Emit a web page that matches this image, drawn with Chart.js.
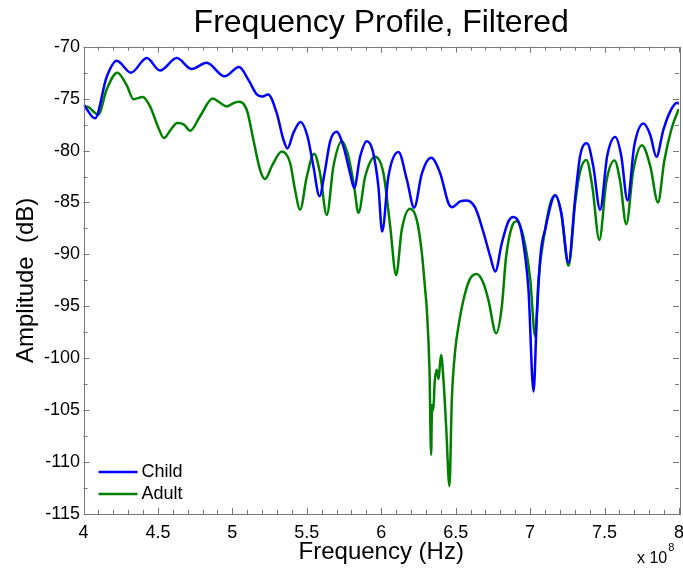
<!DOCTYPE html>
<html>
<head>
<meta charset="utf-8">
<script src="https://cdn.jsdelivr.net/npm/chart.js@4.4.1/dist/chart.umd.min.js"></script>
<style>
  html, body { margin: 0; padding: 0; background: #fff; }
  #c { display: block; }
</style>
</head>
<body>
<canvas id="c" width="683" height="568"></canvas>
<script>
// ---- Data (frequency in units of 1e8 Hz, amplitude in dB) ----
const childFreq = [4.003,4.077,4.156,4.223,4.319,4.425,4.514,4.626,4.727,4.827,4.948,5.045,5.108,5.164,5.198,5.240,5.298,5.343,5.370,5.410,5.458,5.504,5.544,5.585,5.623,5.657,5.700,5.746,5.791,5.818,5.858,5.903,5.944,5.981,6.006,6.048,6.116,6.172,6.221,6.273,6.335,6.396,6.452,6.476,6.530,6.575,6.631,6.687,6.732,6.766,6.810,6.855,6.888,6.933,6.967,6.989,7.023,7.045,7.070,7.101,7.169,7.209,7.258,7.303,7.336,7.382,7.424,7.470,7.518,7.572,7.612,7.654,7.700,7.762,7.807,7.848,7.895,7.942,7.987,8.0];
const childAmp = [-75.6,-76.9,-72.9,-71.35,-72.5,-71.1,-72.3,-71.1,-72.15,-71.55,-72.85,-71.95,-73.2,-74.6,-74.8,-74.6,-76.4,-78.96,-79.8,-78.3,-77.25,-78.6,-81.5,-84.4,-81.85,-79.1,-78.2,-79.6,-82.2,-83.6,-80.6,-79.1,-80.1,-83.5,-87.8,-82.5,-80.15,-82.8,-85.5,-82.2,-80.7,-82.2,-85.1,-85.45,-84.9,-84.8,-85.5,-87.9,-90.2,-91.65,-88.9,-86.8,-86.4,-87.3,-90.2,-93.4,-103.2,-96,-90,-87.6,-84.3,-86,-90.8,-84.5,-80.5,-79.3,-81.5,-85.7,-80.5,-78.7,-80.5,-84.8,-79.5,-77.4,-78.5,-80.6,-78,-76.2,-75.4,-75.5];

const adultFreq = [4.003,4.03,4.099,4.156,4.227,4.290,4.335,4.398,4.447,4.503,4.541,4.581,4.630,4.675,4.716,4.783,4.868,4.917,4.962,4.998,5.040,5.097,5.141,5.186,5.220,5.265,5.332,5.388,5.421,5.455,5.500,5.549,5.589,5.634,5.679,5.735,5.780,5.818,5.847,5.892,5.959,6.015,6.060,6.100,6.138,6.194,6.239,6.273,6.295,6.306,6.324,6.335,6.341,6.350,6.358,6.373,6.385,6.395,6.402,6.418,6.436,6.458,6.474,6.497,6.519,6.552,6.593,6.642,6.687,6.720,6.772,6.810,6.838,6.878,6.911,6.955,7.001,7.034,7.056,7.101,7.135,7.169,7.209,7.258,7.303,7.336,7.378,7.418,7.465,7.512,7.567,7.605,7.646,7.692,7.751,7.807,7.859,7.901,7.948,7.993,8.0];
const adultAmp = [-75.75,-75.8,-76.55,-74.1,-72.5,-73.7,-75.05,-74.85,-75.75,-77.8,-78.8,-78.1,-77.35,-77.5,-78.1,-76.7,-75.0,-75.4,-75.75,-75.5,-75.3,-76.1,-78.96,-81.85,-82.75,-81.5,-80.1,-81.2,-83.8,-85.7,-82.5,-80.3,-82.2,-86.2,-81.5,-79.1,-80.6,-83.5,-86.0,-82.5,-80.6,-82.2,-87.3,-92.0,-87.6,-85.6,-86.7,-89.9,-93.4,-95.3,-101.1,-109.3,-104.5,-105,-102.5,-101.1,-102,-100.5,-99.7,-102.1,-106.6,-112.3,-104,-99.2,-96.9,-94.4,-92.45,-91.9,-92.8,-94.4,-97.6,-95.0,-90.3,-87.3,-86.8,-88.3,-92.45,-97.9,-92.45,-87.6,-85.1,-84.3,-86,-91.1,-85,-82,-80.9,-83.5,-88.6,-83,-80.95,-83,-87.1,-82,-79.5,-81.5,-85.0,-81,-78,-76.2,-76.0];

const seriesNames = ['Child', 'Adult'];
const seriesColors = ['#0000ff', '#008000'];
const xTickValues = [4, 4.5, 5, 5.5, 6, 6.5, 7, 7.5, 8];
const yTickValues = [-115, -110, -105, -100, -95, -90, -85, -80, -75, -70];
const titleText = 'Frequency Profile, Filtered';
const xTitle = 'Frequency (Hz)';
const yTitle = 'Amplitude  (dB)';
const xExponent = '8';

function toPoints(xs, ys) { return xs.map((x, i) => ({ x: x, y: ys[i] })); }

Chart.defaults.font.family = "'Liberation Sans', Arial, Helvetica, sans-serif";
Chart.defaults.color = '#000';

const AXIS_COLOR = '#7a7a7a';
const FONT = "'Liberation Sans', Arial, sans-serif";

const boxPlugin = {
  id: 'boxPlugin',
  afterDraw(chart) {
    const ctx = chart.ctx;
    const a = chart.chartArea;
    const xs = chart.scales.x, ys = chart.scales.y;
    ctx.save();

    // title centred over the plot area
    ctx.fillStyle = '#000';
    ctx.font = '32px ' + FONT;
    ctx.textAlign = 'center';
    ctx.textBaseline = 'alphabetic';
    ctx.fillText(titleText, (a.left + a.right) / 2, 32);

    ctx.strokeStyle = AXIS_COLOR;
    ctx.lineWidth = 1;
    ctx.strokeRect(Math.round(a.left) + 0.5, Math.round(a.top) + 0.5,
                   Math.round(a.right - a.left), Math.round(a.bottom - a.top));
    // x ticks (major every 0.5, minor every 0.1), inward, top and bottom
    ctx.beginPath();
    for (let i = 0; i <= 40; i++) {
      const v = 4 + i * 0.1;
      const px = Math.round(xs.getPixelForValue(v)) + 0.5;
      const len = (i % 5 === 0) ? 6 : 4;
      ctx.moveTo(px, a.bottom); ctx.lineTo(px, a.bottom - len);
      ctx.moveTo(px, a.top); ctx.lineTo(px, a.top + len);
    }
    // y ticks (major every 5, minor every 2.5)
    for (let i = 0; i <= 18; i++) {
      const v = -115 + i * 2.5;
      const py = Math.round(ys.getPixelForValue(v)) + 0.5;
      const len = (i % 2 === 0) ? 6 : 4;
      ctx.moveTo(a.left, py); ctx.lineTo(a.left + len, py);
      ctx.moveTo(a.right, py); ctx.lineTo(a.right - len, py);
    }
    ctx.stroke();

    // legend inside plot, bottom-left, no box
    ctx.font = '18px ' + FONT;
    ctx.textBaseline = 'middle';
    ctx.textAlign = 'left';
    chart.data.datasets.forEach((ds, i) => {
      const y = a.bottom - 42 + i * 22;
      ctx.strokeStyle = ds.borderColor;
      ctx.lineWidth = 2.5;
      ctx.beginPath();
      ctx.moveTo(a.left + 15, y); ctx.lineTo(a.left + 54, y);
      ctx.stroke();
      ctx.fillStyle = '#000';
      ctx.fillText(ds.label, a.left + 58, y);
    });

    // exponent label "x 10^8"
    ctx.fillStyle = '#000';
    ctx.textBaseline = 'alphabetic';
    ctx.textAlign = 'left';
    ctx.font = '16px ' + FONT;
    const baseX = 637, baseY = 563;
    ctx.fillText('x 10', baseX, baseY);
    const w = ctx.measureText('x 10').width;
    ctx.font = '11px ' + FONT;
    ctx.fillText(xExponent, baseX + w + 1, baseY - 12);
    ctx.restore();
  }
};

new Chart(document.getElementById('c'), {
  type: 'line',
  data: {
    datasets: [
      { label: seriesNames[0], data: toPoints(childFreq, childAmp), borderColor: seriesColors[0], backgroundColor: seriesColors[0] },
      { label: seriesNames[1], data: toPoints(adultFreq, adultAmp), borderColor: seriesColors[1], backgroundColor: seriesColors[1] }
    ]
  },
  options: {
    responsive: false,
    animation: false,
    events: [],
    layout: { padding: { left: 0, right: 4, top: 46.7, bottom: 0 } },
    elements: {
      point: { radius: 0 },
      line: { borderWidth: 2.5, cubicInterpolationMode: 'monotone', fill: false }
    },
    plugins: {
      legend: { display: false },
      tooltip: { enabled: false },
      title: { display: false }
    },
    scales: {
      x: {
        type: 'linear', min: 4, max: 8,
        afterBuildTicks(s) { s.ticks = xTickValues.map(v => ({ value: v })); },
        afterFit(s) { s.height = 54; s.paddingLeft = 0; s.paddingRight = 0; },
        grid: { display: false, drawTicks: false },
        border: { display: false },
        ticks: { font: { size: 18 }, color: '#000', padding: 8, maxRotation: 0, autoSkip: false,
                 callback: (v) => String(v) },
        title: { display: true, text: xTitle, color: '#000', font: { size: 24, lineHeight: 1.2 }, padding: { top: 0, bottom: 1.6 } }
      },
      y: {
        type: 'linear', min: -115, max: -70,
        afterBuildTicks(s) { s.ticks = yTickValues.map(v => ({ value: v })); },
        afterFit(s) { s.width = 83.5; s.paddingTop = 0; s.paddingBottom = 0; },
        grid: { display: false, drawTicks: false },
        border: { display: false },
        ticks: { font: { size: 18 }, color: '#000', padding: 3.5, autoSkip: false,
                 callback: (v) => String(v) },
        title: { display: true, text: yTitle, color: '#000', font: { size: 24, lineHeight: 1.2 }, padding: { top: 11.6, bottom: 0 } }
      }
    }
  },
  plugins: [boxPlugin]
});
</script>
</body>
</html>
